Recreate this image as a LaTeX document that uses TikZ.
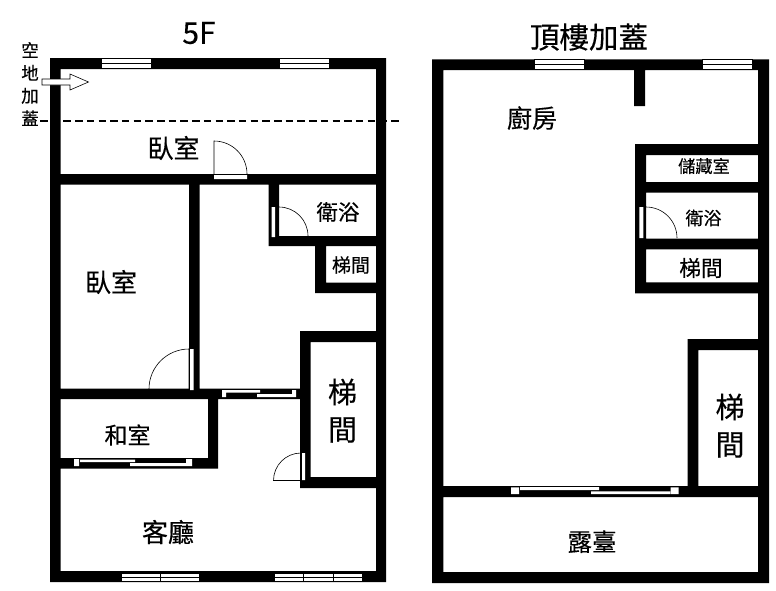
\documentclass[tikz,border=0pt]{standalone}
\usepackage{fontspec}
\setmainfont{Noto Sans CJK TC}[FakeBold=0.35]
\usepackage{tikz}
\tikzset{
	wall/.style={fill=black},
	leaf/.style={draw=black,line width=0.6pt},
	pane/.style={draw=black,line width=0.8pt,fill=white},
	slider/.style={fill=white},
	roomname/.style={inner sep=0pt,font=\fontsize{#1}{#1}\selectfont}
}
\begin{document}
\begin{tikzpicture}[x=1pt,y=-1pt]
	\useasboundingbox (0,0) rectangle (776,590);

	% 5F walls
	\path[wall]
		(50,58) rectangle (386,69)
		(50,58) rectangle (60.5,582)
		(376,58) rectangle (386,582)
		(50,571) rectangle (386,582)
		(50,174) rectangle (386,184.5)
		(189,184) rectangle (199.5,399)
		(50,388.7) rectangle (218,399)
		(199,388.7) rectangle (300,399)
		(268.5,184) rectangle (279,246)
		(268.5,236) rectangle (376,246)
		(315,246) rectangle (326,293)
		(315,282.5) rectangle (376,293)
		(300,331) rectangle (310.5,488)
		(300,331) rectangle (376,342)
		(300,477) rectangle (376,488)
		(208,399) rectangle (218,468.5)
		(50,458) rectangle (218,468.5)
	;

	% roof walls
	\path[wall]
		(432,59.3) rectangle (769,70)
		(432,59.3) rectangle (443.3,583)
		(758,59.3) rectangle (769,583)
		(432,572) rectangle (769,583)
		(634,70) rectangle (645,106)
		(635,144) rectangle (646,293.3)
		(635,144) rectangle (758,155)
		(635,182) rectangle (758,192.7)
		(635,238.7) rectangle (758,249.3)
		(635,282.3) rectangle (758,293.3)
		(687.7,339) rectangle (698.3,491)
		(687.7,339) rectangle (758,350)
		(432,486) rectangle (769,497)
	;

	% windows
	\foreach \xa/\xb/\ya in {101/151/58.5,279/329/58.5,534/584/59.5,702.3/752.3/59.5}{
		\draw[pane] (\xa,\ya) rectangle (\xb,\ya+9.5);
		\draw[pane] (\xa,\ya+4.7) -- (\xb,\ya+4.7);
	}
	\draw[pane] (121,573) rectangle (199,581.5);
	\draw[pane] (121,577.5) -- (199,577.5) (160,573) -- (160,581.5);
	\draw[pane] (274,573) rectangle (362,581.5);
	\draw[pane] (274,577.5) -- (362,577.5) (303,573) -- (303,581.5) (333,573) -- (333,581.5);

	% sliding doors
	\path[slider]
		(222,390) rectangle (226,397)
		(292,390) rectangle (296,397)
		(226,390) rectangle (260,392.7)
		(257,394) rectangle (292,397)
		(74,459) rectangle (79,466)
		(186,459) rectangle (192,466)
		(80,459.7) rectangle (135,462)
		(130,463) rectangle (186,466)
		(511,487.3) rectangle (519,494)
		(670.7,487.3) rectangle (678.7,494)
		(520,487) rectangle (599,490)
		(591,491.3) rectangle (670,494)
	;

	% doors
	\path[slider]
		(214,175) rectangle (247,179)
		(190,349) rectangle (193.5,390)
		(271.5,207) rectangle (275,237)
		(302,453) rectangle (305,480)
		(639.3,207) rectangle (643.3,238)
	;
	\draw[leaf] (214,174) -- (214,141) arc[start angle=90,end angle=0,radius=33pt];
	\draw[leaf] (189,389) -- (189,349) arc[start angle=90,end angle=180,radius=40pt];
	\draw[leaf] (279,207) arc[start angle=90,end angle=0,radius=29pt];
	\draw[leaf] (301,453) arc[start angle=90,end angle=180,radius=27.5pt] -- (301,480.5);
	\draw[leaf] (646,207) arc[start angle=90,end angle=0,radius=31pt];

	% cut line and arrow
	\draw[line width=1.9pt,dash pattern=on 7.5pt off 4.2pt] (40,120.7) -- (402,120.7);
	\draw[leaf,fill=white] (42,79) -- (70,79) -- (70,74) -- (88.5,82) -- (70,90) -- (70,85) -- (42,85) -- cycle;

	% 5F labels
	\node[roomname=30] (title5f) at (199,33) {5F};
	\node[roomname=17,align=center,font=\fontsize{17.5}{22.7}\selectfont] (addon) at (30,84) {空\\地\\加\\蓋};
	\node[roomname=26] (bedtop) at (173.5,148) {臥室};
	\node[roomname=26] (bedleft) at (111,282) {臥室};
	\node[roomname=21.5] (bath5f) at (338,212) {衛浴};
	\node[roomname=19] (stairsmall) at (351,265) {梯間};
	\node[roomname=29] (stairtall1) at (342.5,392) {梯};
	\node[roomname=29] (stairtall2) at (342.5,430) {間};
	\node[roomname=23] (tatami) at (127.5,435) {和室};
	\node[roomname=26] (living) at (168,532) {客廳};

	% roof labels
	\node[roomname=29.5] (titleroof) at (589,37) {頂樓加蓋};
	\node[roomname=25] (kitchen) at (532,118) {廚房};
	\node[roomname=17.2] (storage) at (704,166) {儲藏室};
	\node[roomname=18] (bathroof) at (703.5,218) {衛浴};
	\node[roomname=21.7] (stairroof) at (701,268) {梯間};
	\node[roomname=29] (stairroof1) at (730,407) {梯};
	\node[roomname=29] (stairroof2) at (730,445) {間};
	\node[roomname=24.5] (terrace) at (592,541.7) {露臺};
\end{tikzpicture}
\end{document}
